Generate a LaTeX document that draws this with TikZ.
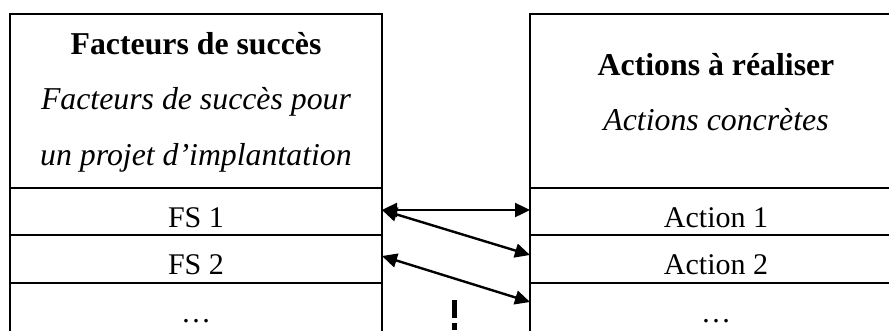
\documentclass[tikz,border=0pt]{standalone}
\usepackage{fontspec}
\setmainfont{Liberation Serif}
\usetikzlibrary{arrows.meta}
\begin{document}
\begin{tikzpicture}[x=1pt,y=-1pt,
  cell/.style={draw,line width=1.8pt,minimum width=372pt,inner sep=0pt,outer sep=0pt},
  txt/.style={anchor=base,inner sep=0pt,font=\fontsize{30}{36}\selectfont},
  head/.style={txt,font=\fontsize{31.8}{38}\selectfont\bfseries},
  sub/.style={txt,font=\fontsize{31.8}{38}\selectfont\itshape},
  tip/.tip={Triangle[length=15pt,width=14pt]},
  link/.style={line width=2.4pt,tip-tip}]
\useasboundingbox (0,0) rectangle (889,330);
\begin{scope}
\clip (0,0) rectangle (889,330);
% left column: success factors
\node[cell,minimum height=174pt,anchor=north west] (lhead) at (10,14) {};
\node[cell,minimum height=47pt,anchor=north west] (fs1) at (10,188) {};
\node[cell,minimum height=48pt,anchor=north west] (fs2) at (10,235) {};
\node[cell,minimum height=60pt,anchor=north west] (fs3) at (10,283) {};
% right column: actions
\node[cell,minimum height=174pt,anchor=north west] (rhead) at (530,14) {};
\node[cell,minimum height=47pt,anchor=north west] (act1) at (530,188) {};
\node[cell,minimum height=48pt,anchor=north west] (act2) at (530,235) {};
\node[cell,minimum height=60pt,anchor=north west] (act3) at (530,283) {};
\end{scope}
% header texts
\node[head] (lt1) at (196,54) {Facteurs de succès};
\node[sub] (lt2) at (196,109) {Facteurs de succès pour};
\node[sub] (lt3) at (196,165) {un projet d’implantation};
\node[head] (rt1) at (716,75) {Actions à réaliser};
\node[sub] (rt2) at (716,130) {Actions concrètes};
% row texts
\node[txt] (fs1t) at (196,227) {FS 1};
\node[txt] (fs2t) at (196,274) {FS 2};
\node[txt] (fs3t) at (196,322) {…};
\node[txt] (act1t) at (716,227) {Action 1};
\node[txt] (act2t) at (716,274) {Action 2};
\node[txt] (act3t) at (716,322) {…};
% links between factors and actions
\draw[link] ([yshift=1.5pt]fs1.east) -- ([yshift=1.5pt]act1.west);
\draw[link] ([yshift=1.5pt]fs1.east) -- ([yshift=4pt]act2.west);
\draw[link] ([yshift=3pt]fs2.east) -- ([yshift=11pt]act3.west);
% small mark between the columns
\fill (452,300) rectangle (456.5,318);
\fill (452,323) rectangle (456.5,330);
\end{tikzpicture}
\end{document}
